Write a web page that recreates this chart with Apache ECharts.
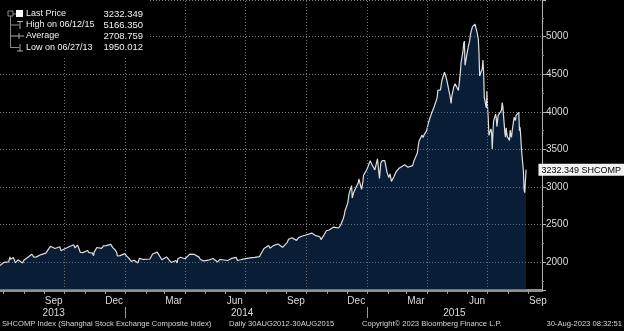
<!DOCTYPE html>
<html><head><meta charset="utf-8">
<script src="https://cdn.jsdelivr.net/npm/echarts@6/dist/echarts.min.js"></script>
<style>html,body{margin:0;padding:0;background:#000;}#c{width:624px;height:331px;}</style>
</head><body><div id="c"></div>
<script>
// ---------- DATA ----------
const dates = [
'2013-06-26','2013-06-27','2013-06-28','2013-07-02','2013-07-04','2013-07-05','2013-07-09','2013-07-11','2013-07-12','2013-07-16','2013-07-18','2013-07-19','2013-07-23','2013-07-25','2013-07-26','2013-07-30','2013-08-01','2013-08-02','2013-08-06','2013-08-08','2013-08-09','2013-08-13','2013-08-15','2013-08-16','2013-08-20','2013-08-22','2013-08-23','2013-08-27','2013-08-29','2013-08-30',
'2013-09-03','2013-09-05','2013-09-06','2013-09-10','2013-09-12','2013-09-13','2013-09-17','2013-09-18','2013-09-24','2013-09-26','2013-09-27','2013-09-30','2013-10-09','2013-10-11','2013-10-15','2013-10-17','2013-10-18','2013-10-21','2013-10-23','2013-10-25','2013-10-29','2013-10-31','2013-11-01','2013-11-05','2013-11-07','2013-11-08','2013-11-12','2013-11-14','2013-11-15','2013-11-19','2013-11-21','2013-11-22','2013-11-26','2013-11-28','2013-11-29',
'2013-12-03','2013-12-05','2013-12-06','2013-12-10','2013-12-12','2013-12-13','2013-12-17','2013-12-19','2013-12-20','2013-12-24','2013-12-26','2013-12-27','2013-12-31',
'2014-01-03','2014-01-07','2014-01-09','2014-01-10','2014-01-14','2014-01-16','2014-01-17','2014-01-20','2014-01-22','2014-01-24','2014-01-28','2014-01-30','2014-02-07','2014-02-11','2014-02-13','2014-02-14','2014-02-18','2014-02-19','2014-02-21','2014-02-25','2014-02-27','2014-02-28',
'2014-03-04','2014-03-06','2014-03-07','2014-03-11','2014-03-13','2014-03-14','2014-03-18','2014-03-20','2014-03-21','2014-03-25','2014-03-27','2014-03-28','2014-04-01','2014-04-03','2014-04-04','2014-04-08','2014-04-10','2014-04-11','2014-04-15','2014-04-17','2014-04-18','2014-04-22','2014-04-24','2014-04-25','2014-04-29','2014-04-30',
'2014-05-06','2014-05-08','2014-05-09','2014-05-13','2014-05-15','2014-05-16','2014-05-20','2014-05-22','2014-05-23','2014-05-27','2014-05-29','2014-05-30','2014-06-04','2014-06-06','2014-06-10','2014-06-12','2014-06-13','2014-06-17','2014-06-19','2014-06-20','2014-06-24','2014-06-26','2014-06-27',
'2014-07-01','2014-07-03','2014-07-04','2014-07-08','2014-07-10','2014-07-11','2014-07-15','2014-07-17','2014-07-18','2014-07-22','2014-07-24','2014-07-25','2014-07-29','2014-07-31','2014-08-01','2014-08-05','2014-08-07','2014-08-08','2014-08-12','2014-08-14','2014-08-15','2014-08-19','2014-08-21','2014-08-22','2014-08-26','2014-08-28','2014-08-29',
'2014-09-02','2014-09-04','2014-09-05','2014-09-09','2014-09-11','2014-09-12','2014-09-16','2014-09-18','2014-09-19','2014-09-23','2014-09-25','2014-09-26','2014-09-30','2014-10-09','2014-10-10','2014-10-14','2014-10-16','2014-10-17','2014-10-21','2014-10-23','2014-10-24','2014-10-28','2014-10-30','2014-10-31',
'2014-11-04','2014-11-06','2014-11-07','2014-11-11','2014-11-13','2014-11-14','2014-11-18','2014-11-20','2014-11-21','2014-11-25','2014-11-27','2014-11-28','2014-12-02','2014-12-04','2014-12-05','2014-12-08','2014-12-09','2014-12-11','2014-12-12','2014-12-16','2014-12-18','2014-12-19','2014-12-22','2014-12-23','2014-12-25','2014-12-26','2014-12-29','2014-12-31',
'2015-01-05','2015-01-06','2015-01-08','2015-01-09','2015-01-12','2015-01-14','2015-01-16','2015-01-19','2015-01-21','2015-01-23','2015-01-27','2015-01-29','2015-01-30','2015-02-02','2015-02-04','2015-02-06','2015-02-10','2015-02-13','2015-02-17','2015-02-26','2015-02-27',
'2015-03-03','2015-03-05','2015-03-06','2015-03-10','2015-03-12','2015-03-13','2015-03-17','2015-03-19','2015-03-20','2015-03-24','2015-03-26','2015-03-27','2015-03-31','2015-04-02','2015-04-03','2015-04-08','2015-04-10','2015-04-14','2015-04-16','2015-04-17','2015-04-21','2015-04-23','2015-04-24','2015-04-27','2015-04-29','2015-04-30',
'2015-05-05','2015-05-07','2015-05-08','2015-05-11','2015-05-13','2015-05-14','2015-05-18','2015-05-20','2015-05-21','2015-05-22','2015-05-25','2015-05-26','2015-05-27','2015-05-28','2015-05-29','2015-06-01','2015-06-03','2015-06-04','2015-06-05','2015-06-08','2015-06-10','2015-06-12','2015-06-15','2015-06-17','2015-06-18','2015-06-19','2015-06-23','2015-06-24','2015-06-25','2015-06-26','2015-06-29','2015-06-30',
'2015-07-01','2015-07-02','2015-07-03','2015-07-06','2015-07-07','2015-07-08','2015-07-09','2015-07-10','2015-07-13','2015-07-14','2015-07-15','2015-07-16','2015-07-17','2015-07-20','2015-07-21','2015-07-22','2015-07-23','2015-07-24','2015-07-27','2015-07-28','2015-07-29','2015-07-30','2015-07-31',
'2015-08-03','2015-08-04','2015-08-05','2015-08-06','2015-08-07','2015-08-10','2015-08-11','2015-08-12','2015-08-13','2015-08-14','2015-08-17','2015-08-18','2015-08-19','2015-08-20','2015-08-21','2015-08-24','2015-08-25','2015-08-26','2015-08-27','2015-08-28'
];
const closes = [
1959,1950.012,1979,2000,1994,2007,2005,2072,2039,2065,2023,1992,2034,2021,2010,1990,2029,2029,2060,2063,2052,2107,2082,2068,2072,2073,2057,2103,2101,2098,
2123,2124,2140,2213,2237,2236,2184,2191,2207,2155,2160,2174,2211,2228,2233,2191,2193,2229,2183,2133,2129,2142,2149,2157,2129,2106,2126,2088,2135,2197,2184,2197,2186,2200,2220,
2223,2245,2237,2239,2215,2196,2160,2127,2084,2089,2073,2102,2116,
2083,2047,2028,2013,2027,2024,2004,1992,2052,2054,2038,2033,2044,2110,2116,2115,2135,2142,2113,2034,2047,2056,
2071,2053,2057,1998,2020,2004,2025,1993,2047,2067,2046,2041,2047,2043,2058,2109,2134,2131,2105,2098,2097,2069,2037,2036,2020,2026,
2028,2010,2011,2051,2025,2026,2005,2021,2035,2034,2040,2039,2024,2030,2052,2055,2070,2066,2024,2024,2034,2038,2036,
2050,2064,2059,2059,2039,2046,2066,2055,2059,2075,2107,2127,2183,2201,2185,2224,2188,2194,2222,2214,2226,2244,2235,2240,2199,2195,2217,
2266,2307,2326,2326,2316,2331,2292,2316,2329,2344,2345,2347,2364,2389,2374,2359,2357,2341,2340,2302,2302,2373,2392,2420,
2430,2419,2418,2469,2485,2478,2456,2452,2487,2568,2630,2683,2780,2899,2938,3020,2856,2925,2938,3021,3057,3108,3128,2971,3073,3157,3169,3235,
3351,3352,3294,3285,3229,3222,3376,3116,3323,3351,3353,3262,3210,3128,3175,3076,3142,3203,3247,3298,3310,
3264,3248,3241,3286,3350,3373,3449,3582,3617,3691,3660,3691,3748,3825,3863,3995,4034,4135,4194,4287,4293,4414,4394,4527,4476,4441,
4229,4112,4205,4333,4375,4378,4284,4446,4529,4657,4813,4910,4941,4620,4612,4829,4910,4947,5023,5131,5106,5166.35,5062,4967,4785,4478,4577,4691,4527,4192,4053,4277,
4054,3913,3687,3775,3727,3507,3710,3878,3970,3924,3805,3823,3957,3993,4017,4027,4124,4070,3725,3663,3789,3705,3664,
3622,3757,3695,3661,3744,3928,3928,3887,3955,3965,3993,3749,3794,3665,3507,3210,2965,2927,3084,3232.349
];
const monthStarts = ['2013-07-01','2013-08-01','2013-09-01','2013-10-01','2013-11-01','2013-12-01','2014-01-01','2014-02-01','2014-03-01','2014-04-01','2014-05-01','2014-06-01','2014-07-01','2014-08-01','2014-09-01','2014-10-01','2014-11-01','2014-12-01','2015-01-01','2015-02-01','2015-03-01','2015-04-01','2015-05-01','2015-06-01','2015-07-01','2015-08-01','2015-09-01'];
const monthLabelDates = ['2013-09-15','2013-12-15','2014-03-15','2014-06-15','2014-09-15','2014-12-15','2015-03-15','2015-06-15','2015-09-15'];
const monthLabels = ['Sep','Dec','Mar','Jun','Sep','Dec','Mar','Jun','Sep'];
const yearLabelDates = ['2013-09-15','2014-06-26','2015-05-12'];
const yearLabels = ['2013','2014','2015'];
const yearBoundaries = ['2014-01-01','2015-01-01'];
const quarterStarts = ['2013-10-01','2014-01-01','2014-04-01','2014-07-01','2014-10-01','2015-01-01','2015-04-01','2015-07-01'];
const statNames = ['Last Price','High on 06/12/15','Average','Low on 06/27/13'];
const statValues = ['3232.349','5166.350','2708.759','1950.012'];
const lastPrice = 3232.349;
const tickerName = 'SHCOMP';
const footerTexts = ['SHCOMP Index (Shanghai Stock Exchange Composite Index)','Daily 30AUG2012-30AUG2015','Copyright\u00a9 2023 Bloomberg Finance L.P.','30-Aug-2023 08:32:51'];

// ---------- CHART ----------
const ts = s => { const p = s.split('-').map(Number); return new Date(p[0], p[1]-1, p[2]).getTime(); };
const seriesData = dates.map((d,i) => [ts(d), closes[i]]);
const labelTs = monthLabelDates.map(ts);
const yearTs = yearLabelDates.map(ts);
const FONT = "'Liberation Sans', 'DejaVu Sans', sans-serif";
const gridColor = '#808080';
const xMin = ts('2013-06-26'), xMax = ts('2015-09-21');

const chart = echarts.init(document.getElementById('c'), null, {renderer:'canvas'});
const legendRows = [14, 25, 36, 47.5];
const graphics = [
  {type:'rect', z:100, shape:{x:0,y:0,width:148,height:57}, style:{fill:'#000'}},
  {type:'rect', z:101, shape:{x:8,y:11,width:5,height:5}, style:{fill:'none', stroke:'#8a8a8a', lineWidth:1}},
  {type:'line', z:101, shape:{x1:10.5,y1:16,x2:10.5,y2:48}, style:{stroke:'#8a8a8a', lineWidth:1}},
  {type:'line', z:101, shape:{x1:13,y1:14,x2:16,y2:14}, style:{stroke:'#8a8a8a', lineWidth:1}},
  {type:'rect', z:101, shape:{x:16,y:10,width:7,height:7}, style:{fill:'#fff'}},
  {type:'line', z:101, shape:{x1:10.5,y1:25,x2:19,y2:25}, style:{stroke:'#8a8a8a', lineWidth:1}},
  {type:'line', z:101, shape:{x1:17,y1:21.5,x2:23,y2:21.5}, style:{stroke:'#aaa', lineWidth:1}},
  {type:'line', z:101, shape:{x1:20,y1:21.5,x2:20,y2:29}, style:{stroke:'#aaa', lineWidth:1}},
  {type:'line', z:101, shape:{x1:10.5,y1:36,x2:24,y2:36}, style:{stroke:'#aaa', lineWidth:1}},
  {type:'line', z:101, shape:{x1:19,y1:33,x2:19,y2:39}, style:{stroke:'#aaa', lineWidth:1}},
  {type:'line', z:101, shape:{x1:10.5,y1:47.5,x2:19,y2:47.5}, style:{stroke:'#8a8a8a', lineWidth:1}},
  {type:'line', z:101, shape:{x1:17,y1:51,x2:23,y2:51}, style:{stroke:'#aaa', lineWidth:1}},
  {type:'line', z:101, shape:{x1:20,y1:44,x2:20,y2:51}, style:{stroke:'#aaa', lineWidth:1}}
];
statNames.forEach((n,i) => {
  graphics.push({type:'text', z:102, x:26, y:legendRows[i], style:{text:n, fill:'#f2f2f2', font:'9px '+FONT, textVerticalAlign:'middle'}});
  graphics.push({type:'text', z:102, x:143, y:legendRows[i], style:{text:statValues[i], fill:'#f2f2f2', font:'9.5px '+FONT, textAlign:'right', textVerticalAlign:'middle'}});
});
const footX = [2, 229, 362, 622];
footerTexts.forEach((t,i) => {
  graphics.push({type:'text', z:102, x:footX[i], y:324, style:{text:t, fill:'#d6d6d6', font:'7.6px '+FONT, textAlign: i===3?'right':'left', textVerticalAlign:'middle'}});
});

const option = {
  backgroundColor:'#000',
  animation:false,
  tooltip:{triggerOn:'none', showContent:false},
  grid:{left:0, right:82, top:0, bottom:41, containLabel:false},
  xAxis:[{
    type:'value', min:xMin, max:xMax, position:'bottom',
    axisLine:{show:true, lineStyle:{color:'#8e8e8e', width:3}},
    axisTick:{show:true, customValues: monthStarts.map(ts), length:4, lineStyle:{color:'#9a9a9a'}},
    axisLabel:{customValues: labelTs, color:'#dcdcdc', fontSize:10, fontFamily:FONT, margin:6, hideOverlap:false,
      formatter: v => { const i = labelTs.findIndex(t => Math.abs(t - v) < 43200000); return i >= 0 ? monthLabels[i] : ''; }},
    splitLine:{show:false}
  },{
    type:'value', min:xMin, max:xMax, position:'bottom', offset:17,
    axisLine:{show:false},
    axisTick:{show:true, customValues: yearBoundaries.map(ts), length:11, lineStyle:{color:'#9a9a9a'}},
    axisLabel:{customValues: yearTs, color:'#dcdcdc', fontSize:10, fontFamily:FONT, margin:1, hideOverlap:false,
      formatter: v => { const i = yearTs.findIndex(t => Math.abs(t - v) < 43200000); return i >= 0 ? yearLabels[i] : ''; }},
    splitLine:{show:false}
  }],
  yAxis:{
    type:'value', position:'right', min:1632, max:5488, splitNumber:8, minInterval:500, maxInterval:500,
    axisLine:{show:true, lineStyle:{color:'#b5b5b5', width:1}},
    axisTick:{show:true, length:4, lineStyle:{color:'#b5b5b5'}},
    minorTick:{show:true, splitNumber:2, length:2, lineStyle:{color:'#888'}},
    axisLabel:{color:'#dcdcdc', fontSize:10, fontFamily:FONT, margin:4, showMinLabel:false, showMaxLabel:false,
      formatter: v => String(Math.round(v))},
    splitLine:{show:true, lineStyle:{type:[1,2], width:1, color:gridColor}},
    axisPointer:{show:true, type:'line', value:lastPrice, status:'show', snap:false, triggerTooltip:false,
      lineStyle:{opacity:0}, handle:{show:false},
      label:{show:true, precision:3, formatter: p => Number(p.value).toFixed(3) + ' ' + tickerName,
        backgroundColor:'#f2f2f2', color:'#000', fontSize:9, fontFamily:FONT, padding:[2,3,1,3], margin:5, borderRadius:0}}
  },
  series:[{
    type:'line', xAxisIndex:0, data:seriesData, showSymbol:false, symbol:'none', z:3,
    lineStyle:{color:'#dedede', width:1.2},
    areaStyle:{color:'rgba(22,74,138,0.56)'},
    markLine:{silent:true, symbol:['none','none'], label:{show:false},
      lineStyle:{type:[1,2], color:'#6e6e6e', width:1},
      data: quarterStarts.map(d => ({xAxis: ts(d)}))}
  }],
  graphic: graphics
};
chart.setOption(option);
</script></body></html>
